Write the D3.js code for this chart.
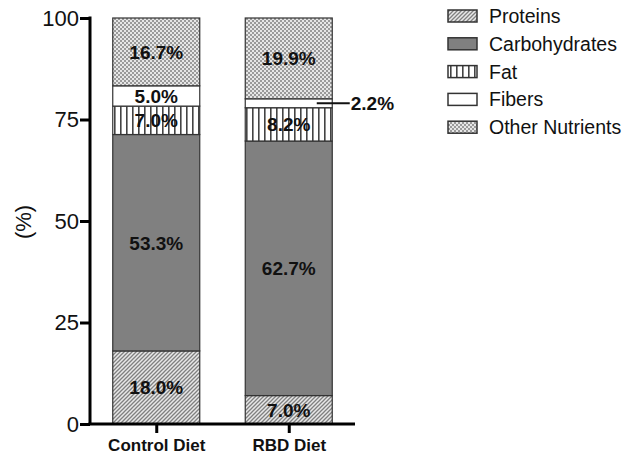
<!DOCTYPE html>
<html><head><meta charset="utf-8">
<script src="https://cdn.jsdelivr.net/npm/d3@7"></script>
<style>body{margin:0;background:#fff}svg{display:block}text{font-family:"Liberation Sans",Arial,sans-serif}</style>
</head><body>
<svg id="chart" width="629" height="457"></svg>
<script>
const categories = ["Control Diet", "RBD Diet"];
const components = ["Proteins", "Carbohydrates", "Fat", "Fibers", "Other Nutrients"];
const proteins = [18.0, 7.0];
const carbohydrates = [53.3, 62.7];
const fat = [7.0, 8.2];
const fibers = [5.0, 2.2];
const other = [16.7, 19.9];
const yTicks = [0, 25, 50, 75, 100];
const yLabel = "(%)";

const seriesValues = [proteins, carbohydrates, fat, fibers, other];
const fills = ["url(#pProt)", "#808080", "url(#pFat)", "#ffffff", "url(#pOther)"];

const svg = d3.select("#chart");
const defs = svg.append("defs");
// proteins: diagonal hatch
const pp = defs.append("pattern").attr("id","pProt").attr("patternUnits","userSpaceOnUse").attr("width",4).attr("height",4);
pp.append("rect").attr("width",4).attr("height",4).attr("fill","#e8e8e8");
pp.append("path").attr("d","M-1,1 l2,-2 M0,4 l4,-4 M3,5 l2,-2").attr("stroke","#808080").attr("stroke-width",1.3);
// fat: vertical stripes
const pf = defs.append("pattern").attr("id","pFat").attr("patternUnits","userSpaceOnUse").attr("width",6).attr("height",6);
pf.append("rect").attr("width",6).attr("height",6).attr("fill","#fff");
pf.append("rect").attr("x",0).attr("width",1.6).attr("height",6).attr("fill","#444");
// other: checker
const po = defs.append("pattern").attr("id","pOther").attr("patternUnits","userSpaceOnUse").attr("width",4).attr("height",4);
po.append("rect").attr("width",4).attr("height",4).attr("fill","#e6e6e6");
po.append("rect").attr("width",2).attr("height",2).attr("fill","#9a9a9a");
po.append("rect").attr("x",2).attr("y",2).attr("width",2).attr("height",2).attr("fill","#9a9a9a");

const x = d3.scalePoint().domain(categories).range([90, 355]).padding(0.5);
const y = d3.scaleLinear().domain([0, 100]).range([424, 18]);
const bw = 87;

const stacked = categories.map((c, i) => {
  let acc = 0;
  return components.map((k, j) => {
    const v = seriesValues[j][i];
    const s = {cat: c, comp: k, j, v, y0: acc, y1: acc + v};
    acc += v;
    return s;
  });
}).flat();

svg.append("g").selectAll("rect").data(stacked).join("rect")
  .attr("x", d => x(d.cat) - bw/2)
  .attr("width", bw)
  .attr("y", d => y(d.y1))
  .attr("height", d => y(d.y0) - y(d.y1))
  .attr("fill", d => fills[d.j])
  .attr("stroke", "#333").attr("stroke-width", 1.2);

// labels
const labG = svg.append("g").attr("font-weight","bold").attr("font-size",19).attr("fill","#111");
stacked.forEach(d => {
  const cy = y((d.y0 + d.y1)/2);
  if (d.v >= 4) {
    labG.append("text").attr("x", x(d.cat)).attr("y", cy).attr("dy","0.36em").attr("text-anchor","middle")
      .text(d.v.toFixed(1) + "%");
  } else {
    svg.append("line").attr("x1", x(d.cat) + 28).attr("x2", x(d.cat) + 61).attr("y1", cy).attr("y2", cy)
      .attr("stroke","#111").attr("stroke-width",2);
    labG.append("text").attr("x", x(d.cat) + 62).attr("y", cy).attr("dy","0.36em").attr("text-anchor","start")
      .text(d.v.toFixed(1) + "%");
  }
});

// y axis
const yAxis = svg.append("g").attr("transform","translate(90,0)")
  .call(d3.axisLeft(y).tickValues(yTicks).tickSize(10).tickPadding(1).tickFormat(d3.format("d")));
yAxis.select(".domain").attr("stroke","#000").attr("stroke-width",3).attr("d","M0,424V16.5");
yAxis.selectAll(".tick line").attr("stroke","#000").attr("stroke-width",3);
yAxis.selectAll(".tick text").attr("font-size",22).attr("fill","#111").attr("font-family","Liberation Sans, Arial, sans-serif");

// x axis
const xAxis = svg.append("g").attr("transform","translate(0,424)")
  .call(d3.axisBottom(x).tickSize(9).tickPadding(6));
xAxis.select(".domain").attr("stroke","#000").attr("stroke-width",3).attr("d","M88.5,0H355");
xAxis.selectAll(".tick line").attr("stroke","#000").attr("stroke-width",3);
xAxis.selectAll(".tick text").attr("font-size",17).attr("font-weight","bold").attr("fill","#111")
  .attr("font-family","Liberation Sans, Arial, sans-serif");

svg.append("text").attr("transform","translate(31,222) rotate(-90)").attr("text-anchor","middle")
  .attr("font-size",22).attr("fill","#111").text(yLabel);

// legend
const lg = svg.append("g");
components.forEach((k, j) => {
  const cy = 16 + j*27.8;
  lg.append("rect").attr("x",448).attr("y",cy-6).attr("width",29).attr("height",12)
    .attr("fill",fills[j]).attr("stroke","#333").attr("stroke-width",1.5);
  lg.append("text").attr("x",489).attr("y",cy).attr("dy","0.36em").attr("font-size",19.5).attr("fill","#111").text(k);
});
</script>
</body></html>
